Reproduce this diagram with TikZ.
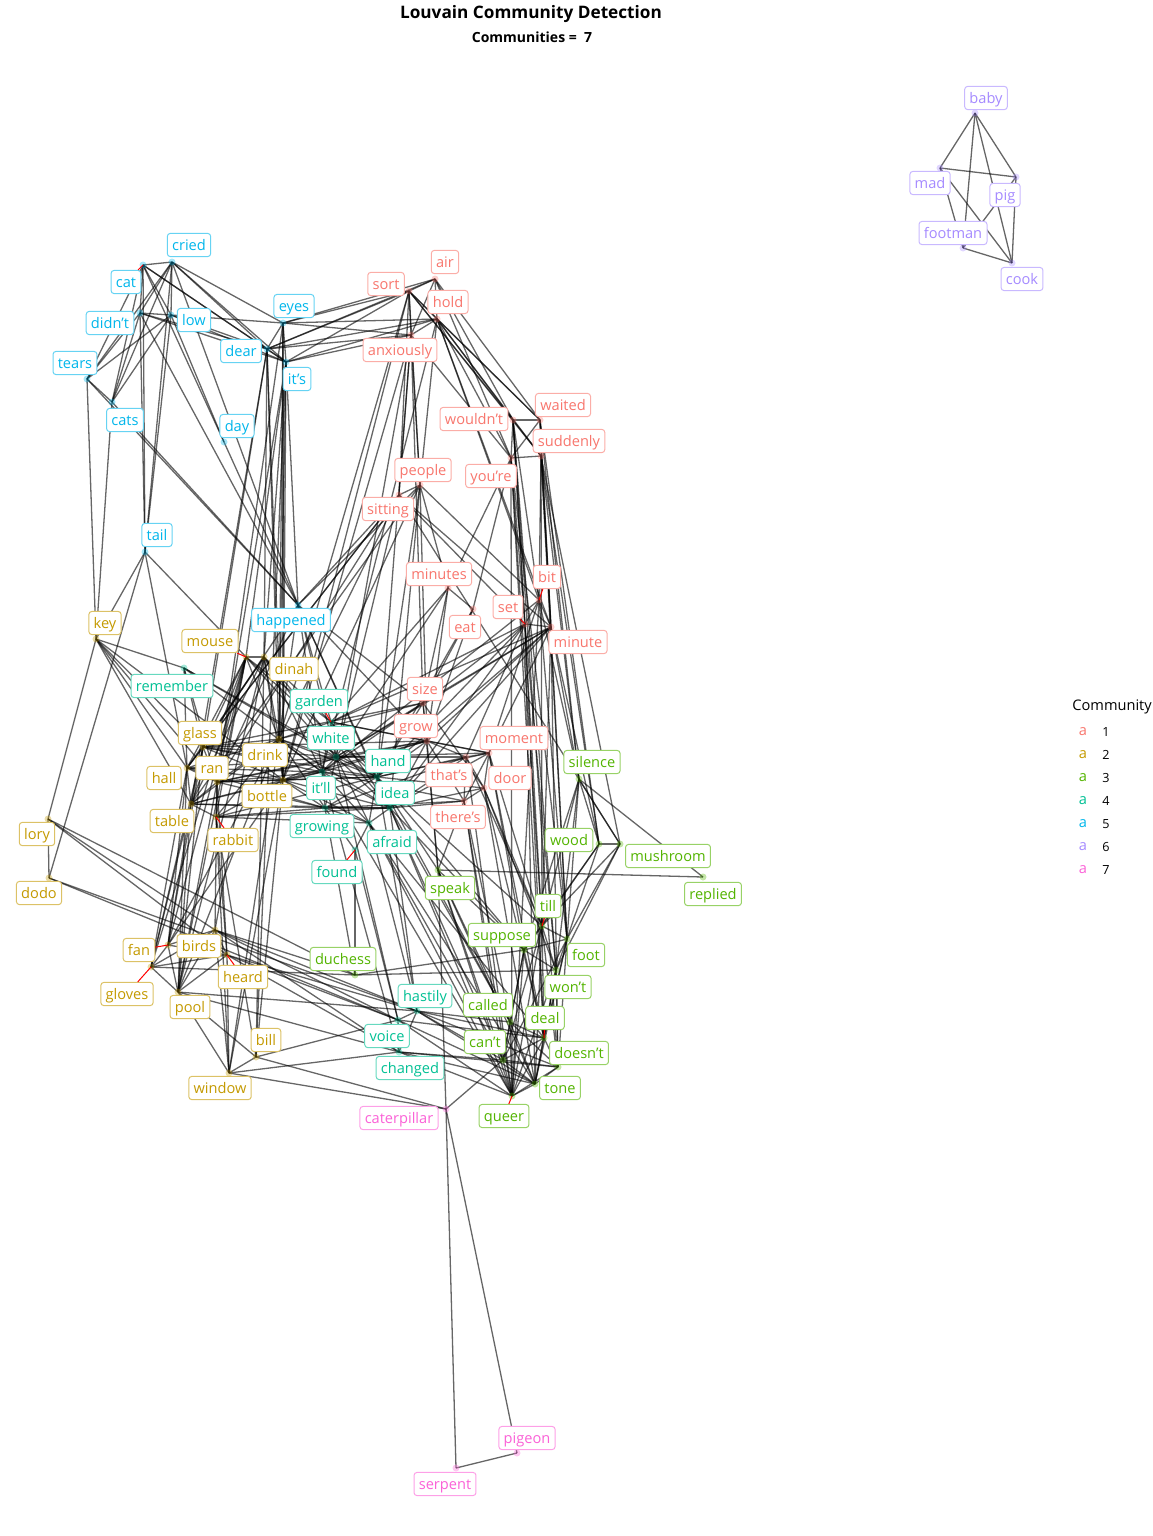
\documentclass[tikz,border=0pt]{standalone}
\usepackage{fontspec}
\setmainfont{Open Sans}
\usepackage{xcolor}

\definecolor{com1}{HTML}{F8766D}
\definecolor{com2}{HTML}{C49A00}
\definecolor{com3}{HTML}{53B400}
\definecolor{com4}{HTML}{00C094}
\definecolor{com5}{HTML}{00B6EB}
\definecolor{com6}{HTML}{A58AFF}
\definecolor{com7}{HTML}{FB61D7}

\tikzset{
  edge/.style={black, opacity=0.6, line width=0.65pt},
  seg/.style={red, line width=0.5pt},
  lab/.style={draw, fill=white, rounded corners=1.5pt, line width=0.5pt,
    inner xsep=2.4pt, inner ysep=1.2pt, text height=0.72em, text depth=0.2em,
    font=\fontsize{7.3}{8}\selectfont},
  lab1/.style={lab, text=com1, draw=com1!60},
  lab2/.style={lab, text=com2, draw=com2!60},
  lab3/.style={lab, text=com3, draw=com3!60},
  lab4/.style={lab, text=com4, draw=com4!60},
  lab5/.style={lab, text=com5, draw=com5!60},
  lab6/.style={lab, text=com6, draw=com6!60},
  lab7/.style={lab, text=com7, draw=com7!60},
}

\begin{document}
\begin{tikzpicture}[x=0.5pt, y=-0.5pt]
    \useasboundingbox (0,0) rectangle (1152,1536); % page frame

    % node points (x/y of the dot)
    \foreach \n/\x/\y in {cat/143/265, cried/172/262, didnt/140/313, low/171/315, tears/87/379,
        cats/112/402, eyes/283/323, dear/267/349, its/286/362, day/224/442, tail/145/552, happened/298/605}
        \coordinate (\n) at (\x,\y); % community 5
    \foreach \n/\x/\y in {air/435/279, sort/409/291, hold/437/319, anxiously/411/335, waited/540/420,
        wouldnt/513/420, suddenly/541/456, youre/511/458, people/420/485, sitting/399/495, minutes/448/588,
        bit/539/600, set/525/624, eat/473/609, minute/551/627, size/423/703, grow/427/741, moment/489/753,
        thats/466/757, door/484/788, theres/464/801}
        \coordinate (\n) at (\x,\y); % community 1
    \foreach \n/\x/\y in {key/96/639, mouse/246/657, dinah/264/657, glass/203/747, drink/279/739,
        hall/187/768, ran/217/782, bottle/283/780, table/191/804, rabbit/216/817, lory/48/819, dodo/49/878,
        fan/168/945, birds/215/930, heard/227/955, gloves/151/967, pool/178/992, bill/256/1057, window/229/1073}
        \coordinate (\n) at (\x,\y); % community 2
    \foreach \n/\x/\y in {remember/184/668, garden/331/722, white/336/757, itll/322/772, hand/377/777,
        idea/390/808, growing/325/808, afraid/369/823, found/355/850, hastily/417/1011, voice/398/1020,
        changed/399/1052}
        \coordinate (\n) at (\x,\y); % community 4
    \foreach \n/\x/\y in {silence/579/779, wood/599/844, mushroom/620/844, replied/703/877, speak/438/870,
        till/542/926, suppose/524/950, foot/567/939, duchess/355/975, wont/556/970, called/510/1022,
        deal/544/1038, cant/503/1060, doesnt/558/1067, tone/535/1084, queer/512/1096}
        \coordinate (\n) at (\x,\y); % community 3
    \foreach \n/\x/\y in {baby/975/113, mad/940/168, pig/1016/177, footman/963/248, cook/1012/263}
        \coordinate (\n) at (\x,\y); % community 6
    \foreach \n/\x/\y in {caterpillar/446/1109, pigeon/517/1453, serpent/456/1468}
        \coordinate (\n) at (\x,\y); % community 7

    % edges
    \foreach \s/\ts in {
        cat/{cried,didnt,low,tears,cats,dear,its,tail,day},
        cried/{didnt,low,tears,cats,eyes,dear,its,tail,happened},
        didnt/{low,tears,cats,dear,its,tail,happened},
        low/{eyes,dear,its,tears,cats,tail,day},
        tears/{key,happened,cats},
        cats/{key,happened},
        eyes/{dear,its,sort,air,hold,anxiously,drink,bottle,ran},
        dear/{its,sort,hold,anxiously,air,dinah,drink,bottle,table,glass},
        its/{sort,hold,anxiously,happened,mouse,dinah,drink,bottle,ran,bill},
        day/{happened},
        tail/{key,mouse,dodo,hall},
        happened/{sitting,people,white,garden,itll,hand,idea,drink,glass,size,grow,ran},
        sort/{air,hold,anxiously,people,sitting,wouldnt,suddenly,waited,drink,bottle},
        air/{hold,anxiously,waited,wouldnt,youre},
        hold/{anxiously,people,wouldnt,waited,youre,suddenly,minute,bit,itll},
        anxiously/{people,sitting,youre,size,white,hand,bottle},
        wouldnt/{waited,suddenly,youre,bit,set,wont,doesnt,till},
        waited/{suddenly,youre,minute,silence,wood,foot},
        suddenly/{youre,bit,minute,till,foot,silence,wood,mushroom},
        youre/{minutes,eat,set,till,foot,deal,queer},
        people/{sitting,minutes,bit,table,bottle,idea,hand,grow},
        sitting/{minute,set,glass,drink,ran,hall,mushroom,white},
        minutes/{eat,size,grow,white,garden},
        eat/{size,hand,grow},
        bit/{set,minute,moment,silence,foot,queer,itll},
        set/{minute,size,thats,garden,idea,hand,deal,tone,wont},
        minute/{size,grow,moment,white,idea,garden,hand,silence,wood,till,doesnt},
        size/{grow,door,glass,white,hand,itll,drink,speak},
        grow/{thats,moment,theres,white,hand,itll,idea,garden,glass,ran,bottle,speak},
        thats/{moment,door,theres,hand,idea,white,growing,till,queer},
        moment/{door,theres,hand,white,idea,garden,till,suppose,deal},
        door/{theres,idea,hand,deal,tone,till,wont},
        theres/{itll,idea,growing,speak,called,queer,cant},
        key/{lory,table,hall,ran,glass,remember,bottle},
        lory/{dodo,birds,heard,duchess},
        dodo/{voice,hastily},
        mouse/{dinah,glass,drink,ran,hall,table,rabbit,pool,white,garden,hand,fan,gloves},
        dinah/{drink,bottle,table,glass,hall,garden,white,itll,idea,pool,birds,bill},
        glass/{drink,hall,ran,bottle,table,fan,pool,white,itll,hand,gloves},
        drink/{bottle,ran,hall,table,rabbit,white,hand,itll,garden,idea,growing,pool,fan,window},
        hall/{ran,table,bottle,fan,gloves,pool,white,itll,growing},
        ran/{bottle,table,rabbit,birds,pool,heard,white,itll,growing,hand},
        bottle/{table,rabbit,bill,window,white,itll,idea,growing,afraid,hand,fan},
        table/{rabbit,fan,gloves,pool,itll,growing,idea},
        rabbit/{heard,window,bill,growing,afraid,hand,idea},
        fan/{birds,gloves,pool,heard},
        birds/{heard,pool,gloves,window,duchess,voice,hastily,changed},
        heard/{pool,gloves,window,voice,hastily,changed},
        gloves/{pool,duchess},
        pool/{window,bill,hastily,changed},
        window/{bill,caterpillar,changed},
        bill/{caterpillar,voice},
        remember/{white,hand,itll,glass,ran,hall},
        garden/{white,itll,hand,idea},
        white/{itll,hand,idea,growing,afraid,voice},
        itll/{hand,idea,growing,afraid,changed,queer},
        hand/{idea,afraid,growing,hastily,speak,called,suppose,till},
        idea/{afraid,growing,hastily,called,cant,queer,suppose},
        growing/{afraid,found,duchess},
        afraid/{found,hastily,tone,deal,cant,queer},
        found/{duchess,voice},
        hastily/{voice,changed,called,cant,deal,doesnt,tone},
        voice/{changed,tone,queer,deal},
        changed/{tone,doesnt,cant,queer},
        silence/{wood,mushroom,replied,till,foot,suppose,wont},
        wood/{mushroom,till,foot,suppose},
        mushroom/{till,foot,wont},
        speak/{suppose,cant,queer,tone,replied,caterpillar,called},
        till/{suppose,foot,wont,deal,doesnt,tone,queer,cant},
        suppose/{foot,wont,called,cant,queer,deal,duchess},
        foot/{wont,doesnt,tone,deal,cant},
        duchess/{wont},
        wont/{deal,doesnt,queer,tone},
        called/{cant,queer,tone,deal,doesnt},
        deal/{doesnt,tone,queer,cant},
        cant/{queer,tone,doesnt,caterpillar},
        doesnt/{tone,queer},
        tone/{queer},
        baby/{mad,footman,cook,pig},
        mad/{pig,footman,cook},
        pig/{footman,cook},
        footman/{cook},
        caterpillar/{pigeon,serpent},
        pigeon/{serpent}}
        \foreach \t in \ts
            \draw[edge] (\s) -- (\t);

    % dots
    \foreach \n in {cat,cried,didnt,low,tears,cats,eyes,dear,its,day,tail,happened}
        \fill[com5, opacity=0.35] (\n) circle[radius=3.5];
    \foreach \n in {air,sort,hold,anxiously,waited,wouldnt,suddenly,youre,people,sitting,minutes,
        bit,set,eat,minute,size,grow,moment,thats,door,theres}
        \fill[com1, opacity=0.35] (\n) circle[radius=3.5];
    \foreach \n in {key,mouse,dinah,glass,drink,hall,ran,bottle,table,rabbit,lory,dodo,fan,birds,
        heard,gloves,pool,bill,window}
        \fill[com2, opacity=0.35] (\n) circle[radius=3.5];
    \foreach \n in {remember,garden,white,itll,hand,idea,growing,afraid,found,hastily,voice,changed}
        \fill[com4, opacity=0.35] (\n) circle[radius=3.5];
    \foreach \n in {silence,wood,mushroom,replied,speak,till,suppose,foot,duchess,wont,called,deal,
        cant,doesnt,tone,queer}
        \fill[com3, opacity=0.35] (\n) circle[radius=3.5];
    \foreach \n in {baby,mad,pig,footman,cook}
        \fill[com6, opacity=0.35] (\n) circle[radius=3.5];
    \foreach \n in {caterpillar,pigeon,serpent}
        \fill[com7, opacity=0.35] (\n) circle[radius=3.5];

    % labels
    \foreach \n/\x/\y/\t in {cat/126/282/cat, cried/189/245/cried, didnt/110/323/didn’t, low/194/320/low,
        tears/75/363/tears, cats/125/420/cats, eyes/294/306/eyes, dear/241/351/dear, its/297/379/it’s,
        day/237/426/day, tail/157/535/tail, happened/291/620/happened}
        \node[lab5] (\n-lab) at (\x,\y) {\t};
    \foreach \n/\x/\y/\t in {air/445/262/air, sort/386/284/sort, hold/448/302/hold,
        anxiously/400/350/anxiously, waited/563/405/waited, wouldnt/474/419/wouldn’t,
        suddenly/569/441/suddenly, youre/491/476/you’re, people/423/470/people, sitting/388/509/sitting,
        minutes/439/574/minutes, bit/547/577/bit, set/508/607/set, eat/465/627/eat, minute/578/642/minute,
        size/425/689/size, grow/416/726/grow, moment/514/738/moment, thats/449/775/that’s,
        door/510/778/door, theres/458/817/there’s}
        \node[lab1] (\n-lab) at (\x,\y) {\t};
    \foreach \n/\x/\y/\t in {key/105/623/key, mouse/210/641/mouse, dinah/294/669/dinah,
        glass/200/733/glass, drink/265/755/drink, hall/164/778/hall, ran/212/768/ran,
        bottle/267/796/bottle, table/172/821/table, rabbit/233/840/rabbit, lory/37/834/lory,
        dodo/39/893/dodo, fan/139/950/fan, birds/199/946/birds, heard/243/977/heard,
        gloves/127/994/gloves, pool/190/1007/pool, bill/266/1040/bill, window/220/1088/window}
        \node[lab2] (\n-lab) at (\x,\y) {\t};
    \foreach \n/\x/\y/\t in {remember/172/686/remember, garden/319/701/garden, white/331/738/white,
        itll/321/788/it’ll, hand/388/761/hand, idea/395/793/idea, growing/322/826/growing,
        afraid/392/842/afraid, found/337/872/found, hastily/425/996/hastily, voice/387/1036/voice,
        changed/410/1068/changed}
        \node[lab4] (\n-lab) at (\x,\y) {\t};
    \foreach \n/\x/\y/\t in {silence/592/762/silence, wood/569/840/wood, mushroom/668/856/mushroom,
        replied/713/894/replied, speak/450/888/speak, till/548/906/till, suppose/502/935/suppose,
        foot/586/955/foot, duchess/343/959/duchess, wont/568/987/won’t, called/488/1005/called,
        deal/545/1018/deal, cant/485/1042/can’t, doesnt/579/1053/doesn’t, tone/560/1088/tone,
        queer/504/1116/queer}
        \node[lab3] (\n-lab) at (\x,\y) {\t};
    \foreach \n/\x/\y/\t in {baby/986/98/baby, mad/930/183/mad, pig/1005/195/pig,
        footman/953/233/footman, cook/1022/279/cook}
        \node[lab6] (\n-lab) at (\x,\y) {\t};
    \foreach \n/\x/\y/\t in {caterpillar/399/1118/caterpillar, pigeon/527/1438/pigeon,
        serpent/445/1484/serpent}
        \node[lab7] (\n-lab) at (\x,\y) {\t};

    % label leaders
    \foreach \n in {cat,garden,mouse,rabbit,found,bit,set,till,deal,queer,fan,gloves,heard}
        \draw[seg] (\n) -- (\n-lab);

    % title
    \node[font=\bfseries\fontsize{8.6}{10}\selectfont] (title) at (531,14) {Louvain Community Detection};
    \node[font=\bfseries\fontsize{7}{8}\selectfont] (subtitle) at (532,37) {Communities =\ \ 7};

    % legend
    \node[anchor=west, font=\fontsize{7.3}{8}\selectfont, inner sep=0pt] (legtitle) at (1072,707) {Community};
    \foreach \i/\y in {1/732, 2/755, 3/778, 4/801, 5/824, 6/847, 7/870} {
        \node[text=com\i, font=\fontsize{7.3}{8}\selectfont, inner sep=0pt] (lega\i) at (1083,\y) {a};
        \node[font=\fontsize{6.3}{7}\selectfont, inner sep=0pt] (legn\i) at (1106,\y) {\i};
    }
\end{tikzpicture}
\end{document}
